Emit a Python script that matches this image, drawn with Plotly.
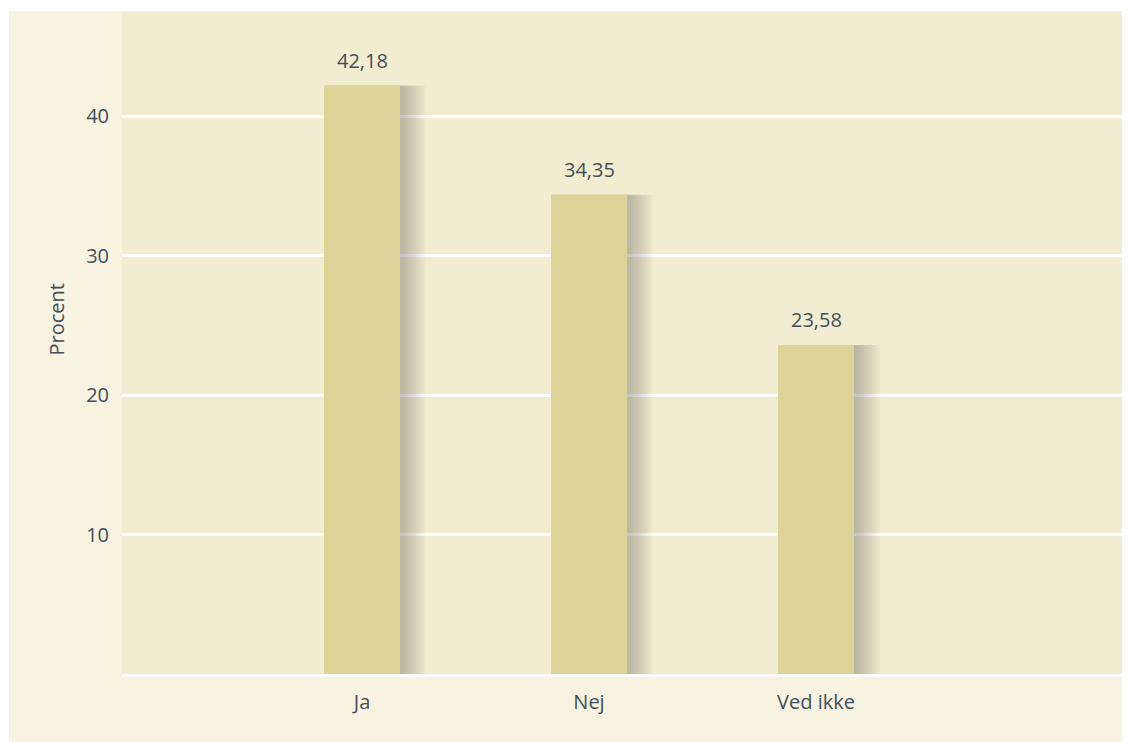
import plotly.graph_objects as go

categories = ["Ja", "Nej", "Ved ikke"]
values = [42.18, 34.35, 23.58]
y_ticks = [10, 20, 30, 40]
y_title = "Procent"

# page body has an 8px margin: lay the figure out in page coords minus 8
OFF = 8
W, H = 1130 - OFF, 742 - OFF
L, R, T = 122 - OFF, 0, 11 - OFF
bottom_px = 674 - OFF
B = H - bottom_px
pw = W - L - R
ph = H - T - B

x0_px, step_px = 362 - OFF, 227
x_range = [(L - x0_px) / step_px, (W - R - x0_px) / step_px]
px = 1 / step_px
bar_w = 76 * px
scale = 13.95  # px per percent

OUTER = "#f8f2e1"
PLOT = "#f2ecd0"
BAR = "#ddd396"
TEXT = "#3f4f5b"
FONT = "'Open Sans', Lato, sans-serif"

fig = go.Figure()

# soft shadow layers to the right of each bar
for k in range(1, 13):
    w = bar_w + k * 2 * px
    fig.add_trace(go.Bar(
        x=categories, y=values, width=w, offset=-bar_w / 2 + 2 * px,
        marker=dict(color="rgba(90,85,60,0.028)", line=dict(width=0)),
        hoverinfo="skip", showlegend=False,
    ))

fig.add_trace(go.Bar(
    x=categories, y=values, width=bar_w, offset=-bar_w / 2,
    marker=dict(color=BAR, line=dict(width=0)),
    hoverinfo="skip", showlegend=False,
))

labels = [f"{v:.2f}".replace(".", ",") for v in values]
annotations = [dict(x=c, y=v, text=t, showarrow=False, yanchor="bottom", yshift=10,
                    font=dict(family=FONT, size=20, color=TEXT))
               for c, v, t in zip(categories, values, labels)]
annotations.append(dict(text=y_title, textangle=-90, xref="paper", yref="paper",
                        x=(40 - OFF - L) / pw, y=(bottom_px - (320 - OFF)) / ph,
                        showarrow=False, font=dict(family=FONT, size=20, color=TEXT)))

fig.update_layout(
    width=W, height=H,
    margin=dict(l=L, r=R, t=T, b=B, autoexpand=False),
    paper_bgcolor=OUTER, plot_bgcolor=PLOT,
    barmode="overlay",
    font=dict(family=FONT, color=TEXT, size=20),
    shapes=[
        dict(type="rect", xref="paper", yref="paper", x0=-L / pw - 0.01, x1=1.01,
             y0=1.0, y1=1 + T / ph + 0.01, fillcolor="white", line=dict(width=0), layer="below"),
        dict(type="rect", xref="paper", yref="paper", x0=-L / pw - 0.01, x1=(1 - L) / pw,
             y0=-B / ph - 0.01, y1=1.02, fillcolor="white", line=dict(width=0), layer="below"),
    ],
    annotations=annotations,
)
fig.update_xaxes(range=x_range, showgrid=False, zeroline=False,
                 showline=True, linecolor="white", linewidth=3,
                 ticks="", ticklabelstandoff=8,
                 tickfont=dict(family=FONT, size=20, color=TEXT))
fig.update_yaxes(range=[0, ph / scale], tickvals=y_ticks, ticktext=[str(v) for v in y_ticks],
                 showgrid=True, gridcolor="white", gridwidth=3, zeroline=False,
                 showline=False, ticks="", ticklabelstandoff=12,
                 tickfont=dict(family=FONT, size=20, color=TEXT))

fig.write_html("out.html")
